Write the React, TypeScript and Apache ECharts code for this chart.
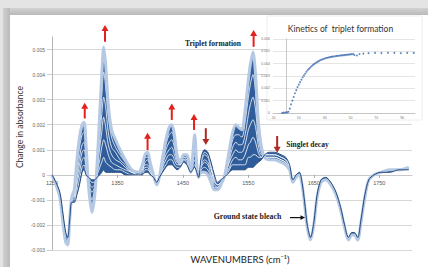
import React, { useEffect, useRef } from 'react';
import * as echarts from 'echarts';

// Wavenumbers (cm-1) of the sampled spectra
const X = [1250,1256,1262,1267,1271,1274,1277,1280,1284,1288,
  1292,1296,1299,1302,1306,1311,1315,1319,1323,1326,
  1329,1332,1336,1341,1347,1354,1362,1372,1382,1388,
  1392,1396,1400,1405,1410,1414,1419,1424,1429,1433,
  1437,1441,1446,1451,1456,1462,1465,1468,1471,1474,
  1478,1483,1488,1493,1498,1503,1508,1513,1517,1521,
  1526,1531,1535,1540,1545,1550,1553,1557,1561,1565,
  1570,1575,1582,1590,1600,1607,1613,1618,1623,1628,
  1632,1636,1640,1645,1650,1655,1661,1668,1676,1684,
  1691,1697,1703,1708,1712,1717,1722,1728,1734,1742,
  1752,1766,1780,1795];

// Earliest spectrum (change in absorbance)
const EARLY = [0,-3e-4,-7e-4,-16e-4,-23e-4,-25e-4,-18e-4,-11e-4,-11e-4,-8e-4,
  -4e-4,1e-4,2e-4,0,-1e-4,-2e-4,-2e-4,-1e-4,0,1e-4,
  2e-4,1e-4,1e-4,1e-4,1e-4,1e-4,0,0,0,0,
  1e-4,1e-4,0,-1e-4,-3e-4,-1e-4,1e-4,3e-4,4e-4,4e-4,
  3e-4,2e-4,3e-4,5e-4,4e-4,1e-4,2e-4,3e-4,1e-4,-1e-4,
  7e-4,10e-4,9e-4,5e-4,0,-3e-4,-2e-4,-1e-4,0,1e-4,
  2e-4,2e-4,2e-4,2e-4,2e-4,3e-4,3e-4,3e-4,4e-4,5e-4,
  6e-4,8e-4,9e-4,9e-4,8e-4,7e-4,4e-4,-2e-4,0,1e-4,
  -3e-4,-11e-4,-20e-4,-25e-4,-19e-4,-8e-4,-2e-4,-1e-4,-3e-4,-7e-4,
  -13e-4,-20e-4,-25e-4,-23e-4,-23e-4,-25e-4,-18e-4,-8e-4,-2e-4,0,
  1e-4,1e-4,2e-4,2e-4];

// Latest spectrum
const LATE = [0,-4e-4,-9e-4,-20e-4,-27e-4,-28e-4,-18e-4,-9e-4,-6e-4,6e-4,
  15e-4,20e-4,21e-4,12e-4,-5e-4,-15e-4,-9e-4,5e-4,25e-4,40e-4,
  51e-4,44e-4,28e-4,18e-4,14e-4,10e-4,6e-4,2e-4,1e-4,4e-4,
  8e-4,9e-4,5e-4,0,-4e-4,-1e-4,7e-4,14e-4,19e-4,20e-4,
  16e-4,8e-4,5e-4,8e-4,8e-4,1e-4,8e-4,16e-4,5e-4,-1e-4,
  1e-4,1e-4,0,-3e-4,-6e-4,-6e-4,-4e-4,-1e-4,4e-4,10e-4,
  17e-4,20e-4,19e-4,18e-4,26e-4,38e-4,44e-4,49e-4,40e-4,22e-4,
  11e-4,7e-4,6e-4,6e-4,5e-4,4e-4,2e-4,-3e-4,-1e-4,0,
  -4e-4,-12e-4,-21e-4,-26e-4,-20e-4,-9e-4,-3e-4,-2e-4,-4e-4,-8e-4,
  -14e-4,-21e-4,-26e-4,-24e-4,-24e-4,-26e-4,-19e-4,-9e-4,-2e-4,0,
  1e-4,2e-4,2e-4,3e-4];

// Intermediate spectra where they separate (1277-1618 cm-1)
const X_MID = [1277,1280,1284,1288,1292,1296,1299,1302,1306,1311,
  1315,1319,1323,1326,1329,1332,1336,1341,1347,1354,
  1362,1372,1382,1388,1392,1396,1400,1405,1410,1414,
  1419,1424,1429,1433,1437,1441,1446,1451,1456,1462,
  1465,1468,1471,1474,1478,1483,1488,1493,1498,1503,
  1508,1513,1517,1521,1526,1531,1535,1540,1545,1550,
  1553,1557,1561,1565,1570,1575,1582,1590,1600,1607,
  1613,1618];
const MID_1 = [-18e-4,-11e-4,-11e-4,-7e-4,-2e-4,3e-4,4e-4,1e-4,-1e-4,-3e-4,
  -3e-4,0,3e-4,5e-4,7e-4,5e-4,4e-4,3e-4,2e-4,2e-4,
  1e-4,0,0,0,2e-4,2e-4,1e-4,-1e-4,-3e-4,-1e-4,
  2e-4,4e-4,6e-4,6e-4,4e-4,3e-4,3e-4,5e-4,4e-4,1e-4,
  3e-4,4e-4,1e-4,-1e-4,6e-4,9e-4,8e-4,4e-4,-1e-4,-3e-4,
  -2e-4,-1e-4,0,2e-4,4e-4,4e-4,4e-4,4e-4,4e-4,7e-4,
  7e-4,8e-4,8e-4,7e-4,7e-4,8e-4,9e-4,9e-4,8e-4,7e-4,
  4e-4,-2e-4];
const MID_2 = [-18e-4,-10e-4,-10e-4,-4e-4,1e-4,6e-4,7e-4,3e-4,-2e-4,-5e-4,
  -4e-4,1e-4,6e-4,11e-4,14e-4,12e-4,8e-4,5e-4,4e-4,3e-4,
  2e-4,1e-4,0,1e-4,3e-4,3e-4,1e-4,-1e-4,-3e-4,-1e-4,
  3e-4,6e-4,8e-4,8e-4,6e-4,4e-4,4e-4,6e-4,5e-4,1e-4,
  4e-4,6e-4,2e-4,-1e-4,5e-4,8e-4,7e-4,3e-4,-2e-4,-4e-4,
  -3e-4,-1e-4,1e-4,3e-4,6e-4,7e-4,6e-4,6e-4,8e-4,12e-4,
  13e-4,15e-4,13e-4,9e-4,7e-4,8e-4,8e-4,8e-4,7e-4,6e-4,
  4e-4,-2e-4];
const MID_3 = [-18e-4,-10e-4,-9e-4,-2e-4,4e-4,9e-4,10e-4,5e-4,-3e-4,-7e-4,
  -5e-4,2e-4,11e-4,17e-4,23e-4,19e-4,12e-4,8e-4,6e-4,5e-4,
  3e-4,1e-4,0,2e-4,4e-4,4e-4,2e-4,-1e-4,-3e-4,-1e-4,
  4e-4,8e-4,10e-4,11e-4,8e-4,5e-4,4e-4,6e-4,6e-4,1e-4,
  5e-4,8e-4,3e-4,-1e-4,4e-4,6e-4,5e-4,2e-4,-3e-4,-4e-4,
  -3e-4,-1e-4,2e-4,5e-4,8e-4,10e-4,9e-4,9e-4,12e-4,18e-4,
  20e-4,22e-4,19e-4,12e-4,8e-4,8e-4,8e-4,8e-4,7e-4,6e-4,
  3e-4,-2e-4];
const MID_4 = [-18e-4,-10e-4,-8e-4,0,7e-4,12e-4,13e-4,7e-4,-3e-4,-10e-4,
  -6e-4,3e-4,15e-4,24e-4,31e-4,27e-4,17e-4,11e-4,9e-4,6e-4,
  4e-4,1e-4,1e-4,2e-4,5e-4,6e-4,3e-4,0,-4e-4,-1e-4,
  5e-4,10e-4,13e-4,14e-4,11e-4,6e-4,4e-4,7e-4,6e-4,1e-4,
  6e-4,11e-4,3e-4,-1e-4,3e-4,5e-4,4e-4,0,-4e-4,-5e-4,
  -3e-4,-1e-4,2e-4,6e-4,11e-4,13e-4,12e-4,12e-4,16e-4,24e-4,
  28e-4,31e-4,26e-4,15e-4,9e-4,7e-4,7e-4,7e-4,6e-4,5e-4,
  3e-4,-3e-4];
const MID_5 = [-18e-4,-9e-4,-7e-4,3e-4,11e-4,16e-4,17e-4,10e-4,-4e-4,-12e-4,
  -8e-4,4e-4,20e-4,32e-4,41e-4,35e-4,23e-4,15e-4,11e-4,8e-4,
  5e-4,2e-4,1e-4,3e-4,7e-4,7e-4,4e-4,0,-4e-4,-1e-4,
  6e-4,12e-4,16e-4,17e-4,13e-4,7e-4,5e-4,7e-4,7e-4,1e-4,
  7e-4,13e-4,4e-4,-1e-4,2e-4,3e-4,2e-4,-1e-4,-5e-4,-5e-4,
  -4e-4,-1e-4,3e-4,8e-4,14e-4,16e-4,16e-4,15e-4,21e-4,31e-4,
  36e-4,40e-4,33e-4,19e-4,10e-4,7e-4,7e-4,7e-4,6e-4,5e-4,
  2e-4,-3e-4];
const MIDS = [MID_1, MID_2, MID_3, MID_4, MID_5];

// Inset: kinetics of triplet formation (time, absorbance)
const K_T = [-3,-2,-1,0,1,2,3,4,5,6,7,8,9,10,11,12,13,14,15,16,17,18,19,20,
  21,22,23,24,25,26,27,28,29,30,31,32,33,34,35,36,37,38,39,40,
  41,42,43,44,45,46,47,48,49,50,51,52,53,55,57,60,64,69,74,79,84,89,94,99];
const K_V = [0,0.00003,0.00002,0.00005,0.00005,0.0001,0.00035,0.0007,0.001,0.0013,0.0016,0.00185,0.0021,0.0023,0.0025,0.0027,0.0029,0.00305,0.0032,0.00335,0.0035,0.0036,0.0037,0.0038,
  0.0039,0.00398,0.00405,0.00412,0.00418,0.00424,0.0043,0.00434,0.00438,0.00442,0.00445,0.00448,0.0045,0.00453,0.00455,0.00457,0.00458,0.0046,0.00462,0.00463,
  0.00464,0.00466,0.00467,0.00468,0.00469,0.0047,0.00472,0.00473,0.00474,0.00476,0.00477,0.00478,0.0047,0.00466,0.00478,0.00482,0.00485,0.00487,0.00486,0.00488,0.00487,0.00485,0.00488,0.00487];

// Axis ticks
const X_MIN = 1250, X_MAX = 1800, X_STEP = 100;
const Y_MIN = -0.003, Y_MAX = 0.0055, Y_STEP = 0.001;

// Annotation arrows: [wavenumber, tail value, tip value]
const UP_ARROWS = [[1300,0.00225,0.00288],[1331,0.00531,0.00598],[1396,0.00099,0.00168],
  [1433,0.00219,0.00285],[1467,0.00179,0.00243],[1558,0.00511,0.00578]];
const DOWN_ARROWS = [[1485,0.00186,0.00119],[1594,0.00155,0.00088]];

const DARK = '#2f5d9b';
const DARK_LINE = '#22487e';
const LIGHT = '#b5c9e5';

const GRID_TOP = 37, GRID_BOTTOM = 17, H = 267;
// pixel row of value 0 on the main chart (for the axis that carries the wavenumber labels)
const ZERO_BOTTOM = H - (GRID_TOP + (Y_MAX / (Y_MAX - Y_MIN)) * (H - GRID_TOP - GRID_BOTTOM));

const fmt = (v: number) => (Math.abs(v) < 1e-9 ? '0' : v.toFixed(3));

function arrow(id: string, x: number, yTail: number, yTip: number, color: string) {
  const dir = yTip < yTail ? -1 : 1;
  const headH = 6;
  const headW = 3.5;
  const base = yTip - dir * headH;
  return {
    type: 'group', id, z: 20,
    children: [
      { type: 'line', z: 20, shape: { x1: x, y1: yTail, x2: x, y2: base + dir * 0.5 }, style: { stroke: color, lineWidth: 2 } },
      { type: 'polygon', z: 20, shape: { points: [[x, yTip], [x - headW, base], [x + headW, base]] }, style: { fill: color } },
    ],
  };
}

export default function App() {
  const ref = useRef<HTMLDivElement>(null);
  useEffect(() => {
    if (!ref.current) return;
    const chart = echarts.init(ref.current, null, { renderer: 'svg' });
    const pairs = (xs: number[], ys: number[]) => xs.map((x, i) => [x, ys[i]]);
    // value-first pairs so that stacking happens on the y dimension
    const stackPairs = (xs: number[], ys: number[]) => xs.map((x, i) => [ys[i], x]);
    const diff = LATE.map((v, i) => v - EARLY[i]);
    const lineBase = { type: 'line', symbol: 'none', smooth: 0.3, silent: true, xAxisIndex: 0, yAxisIndex: 0 };
    chart.setOption({
      animation: false,
      grid: [
        { left: 52, right: 16, top: GRID_TOP, bottom: GRID_BOTTOM, containLabel: false },
        { left: 273, right: 13, top: 39, bottom: 154, containLabel: false },
        { left: 52, right: 16, top: GRID_TOP, bottom: ZERO_BOTTOM, containLabel: false },
      ],
      xAxis: [
        { type: 'value', gridIndex: 0, min: X_MIN, max: X_MAX, interval: X_STEP, show: false },
        {
          type: 'value', gridIndex: 1, min: -10, max: 100, interval: 20, z: 3,
          axisLine: { show: true, onZero: true, lineStyle: { color: '#bbbbbb', width: 0.8 } },
          axisTick: { show: false },
          axisLabel: { fontSize: 3.5, color: '#777', margin: 3, showMaxLabel: false, fontFamily: 'Liberation Sans' },
          splitLine: { show: false },
        },
        {
          type: 'value', gridIndex: 2, min: X_MIN, max: X_MAX, interval: X_STEP, z: 0, position: 'bottom',
          axisLine: { show: true, onZero: false, lineStyle: { color: '#c8c8c8', width: 1 } },
          axisTick: { show: true, length: 3, lineStyle: { color: '#aaaaaa' } },
          axisLabel: { fontSize: 5.5, color: '#555', margin: 5, showMaxLabel: false, fontFamily: 'Liberation Sans',
            formatter: (v: number) => String(v) },
          splitLine: { show: false },
        },
      ],
      yAxis: [
        {
          type: 'value', gridIndex: 0, min: Y_MIN, max: Y_MAX, interval: Y_STEP, z: 0,
          axisLine: { show: true, onZero: false, lineStyle: { color: '#b5b5b5' } },
          axisTick: { show: true, length: 5, lineStyle: { color: '#cccccc' } },
          axisLabel: { fontSize: 5, color: '#666', margin: 7, showMaxLabel: false, formatter: fmt, fontFamily: 'Liberation Sans' },
          splitLine: { show: true, showMaxLine: false, lineStyle: { color: '#d8d8d8', width: 1 } },
        },
        {
          type: 'value', gridIndex: 1, min: 0, max: 0.006, interval: 0.001, z: 3,
          axisLine: { show: true, onZero: true, lineStyle: { color: '#bbbbbb', width: 0.8 } },
          axisTick: { show: false },
          axisLabel: { fontSize: 3.5, color: '#777', margin: 3, formatter: fmt, fontFamily: 'Liberation Sans' },
          splitLine: { show: true, lineStyle: { color: '#dedede', width: 0.8 } },
        },
        { type: 'value', gridIndex: 2, min: 0, max: Y_MAX, show: false },
      ],
      series: [
        { ...lineBase, data: stackPairs(X, EARLY), encode: { x: 1, y: 0 }, stack: 'band', stackStrategy: 'all',
          lineStyle: { opacity: 0 }, z: 2 },
        { ...lineBase, data: stackPairs(X, diff), encode: { x: 1, y: 0 }, stack: 'band', stackStrategy: 'all',
          lineStyle: { opacity: 0 }, areaStyle: { color: DARK, opacity: 1 }, z: 2 },
        ...MIDS.map((m) => ({ ...lineBase, data: pairs(X_MID, m), lineStyle: { color: '#ffffff', width: 0.8 }, z: 3 })),
        { ...lineBase, data: pairs(X, LATE), lineStyle: { color: LIGHT, width: 3 }, z: 4 },
        { ...lineBase, data: pairs(X, EARLY), lineStyle: { color: DARK_LINE, width: 1 }, z: 5 },
        {
          type: 'scatter', xAxisIndex: 1, yAxisIndex: 1, data: pairs(K_T, K_V), symbol: 'circle', symbolSize: 1.9,
          itemStyle: { color: '#3d6cb0' }, silent: true, z: 6,
        },
      ],
    });

    const px = (x: number, y: number) => chart.convertToPixel({ xAxisIndex: 0, yAxisIndex: 0 }, [x, y]) as number[];
    const els: any[] = [];
    els.push({ type: 'rect', id: 'insetBg', z: 1, shape: { x: 267, y: 16, width: 155, height: 104 },
      style: { fill: '#ffffff', stroke: '#e8e8e8', lineWidth: 0.8 } });
    UP_ARROWS.forEach(([w, t, h], i) => {
      const a = px(w, t); const b = px(w, h);
      els.push(arrow('up' + i, a[0], a[1], b[1], '#e3211c'));
    });
    DOWN_ARROWS.forEach(([w, t, h], i) => {
      const a = px(w, t); const b = px(w, h);
      els.push(arrow('down' + i, a[0], a[1], b[1], '#ad2b25'));
    });
    const label = (id: string, text: string, x: number, y: number, size: number, extra: any = {}) => ({
      type: 'text', id, z: 21, x, y,
      style: { text, fontSize: size, fontFamily: 'Liberation Serif', fontWeight: 'bold', fill: '#222',
        align: 'center', verticalAlign: 'middle', textAlign: 'center', textVerticalAlign: 'middle', ...extra },
    });
    els.push(label('t1', 'Triplet formation', 213, 43, 7.5));
    els.push(label('t2', 'Singlet decay', 307.5, 144, 7.5));
    els.push(label('t3', 'Ground state bleach', 247.5, 216.5, 7.8));
    els.push(label('t4', 'Kinetics of  triplet formation', 340.5, 29, 8.5, { fontFamily: 'Lato', fontWeight: 'normal', fill: '#333' }));
    els.push(label('t5', 'WAVENUMBERS (cm⁻¹)', 240, 259, 9.5, { fontFamily: 'Lato, DejaVu Sans', fontWeight: 'normal', fill: '#222' }));
    els.push({ ...label('t6', 'Change in absorbance', 20, 127, 8.5, { fontFamily: 'Lato', fontWeight: 'normal', fill: '#333' }), rotation: Math.PI / 2 });
    els.push({ type: 'group', id: 'blk', z: 20, children: [
      { type: 'line', z: 20, shape: { x1: 290, y1: 217.6, x2: 301, y2: 217.6 }, style: { stroke: '#111', lineWidth: 1.2 } },
      { type: 'polygon', z: 20, shape: { points: [[305, 217.6], [300.5, 215.2], [300.5, 220]] }, style: { fill: '#111' } },
    ] });
    chart.setOption({ graphic: { elements: els } });
    return () => chart.dispose();
  }, []);

  return (
    <div style={{ position: 'fixed', left: 0, top: 0, width: 428, height: 267, background: '#e4e4e4', overflow: 'hidden' }}>
      <div style={{ position: 'absolute', left: 3, top: 8, width: 425, height: 7, background: 'linear-gradient(#d2d2d2, #b9b9b9)' }} />
      <div style={{ position: 'absolute', left: 3, top: 8, width: 7, height: 259, background: 'linear-gradient(to right, #d0d0d0, #bababa)' }} />
      <div style={{ position: 'absolute', left: 10, top: 15, width: 418, height: 252, background: '#ffffff' }} />
      <div ref={ref} style={{ position: 'absolute', left: 0, top: 0, width: 428, height: 267 }} />
    </div>
  );
}
